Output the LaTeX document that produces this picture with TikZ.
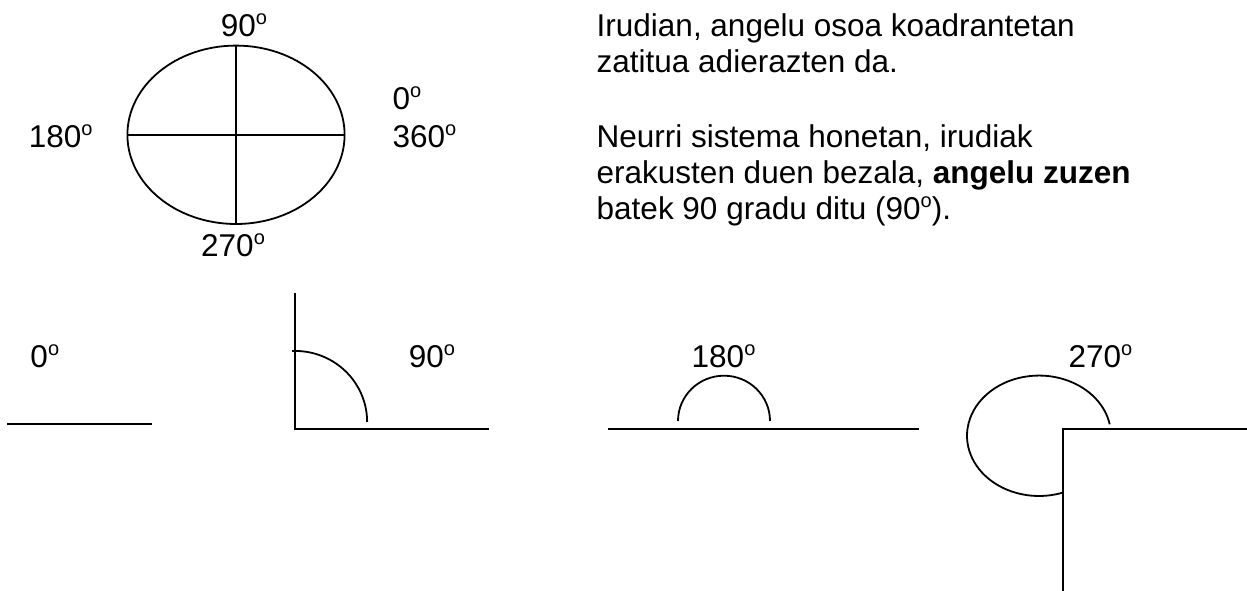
\documentclass[tikz,border=0pt]{standalone}
\usepackage{fontspec}
\setmainfont{Liberation Sans}
\usetikzlibrary{positioning}

\newcommand{\gradu}{\raisebox{0.4em}{\fontsize{20}{20}\selectfont o}}

\tikzset{
  deg/.style={inner sep=0pt, font=\fontsize{31.5}{36}\selectfont},
  stroke/.style={line width=1.8pt}
}

\begin{document}
\begin{tikzpicture}[x=1pt,y=1pt]
  \useasboundingbox (0,0) rectangle (1247,591);
  % full angle split in quadrants
  \draw[stroke] (236,456.2) ellipse (108.6 and 89.2);
  \draw[stroke] (127.4,456.2) -- (344.6,456.2);
  \draw[stroke] (236,545.3) -- (236,367);
  \node[deg,anchor=base] (q90) at (244,554.3) {90\gradu};
  \node[deg,anchor=base west] (q180) at (28.6,443) {180\gradu};
  \node[deg,anchor=base west] (q0) at (392.4,481) {0\gradu};
  \node[deg,anchor=base west] (q360) at (392.4,443) {360\gradu};
  \node[deg,anchor=base west] (q270) at (201,334) {270\gradu};
  % explanation
  \node[deg,anchor=base west] (t1) at (596.5,554) {Irudian, angelu osoa koadrantetan};
  \node[deg,anchor=base west] (t2) at (596.5,518) {zatitua adierazten da.};
  \node[deg,anchor=base west] (t3) at (596.5,443) {Neurri sistema honetan, irudiak};
  \node[deg,anchor=base west] (t4) at (596.5,407) {erakusten duen bezala, \textbf{angelu zuzen}};
  \node[deg,anchor=base west] (t5) at (596.5,371) {batek 90 gradu ditu (90\gradu).};
  % the four angles
  \node[deg,anchor=base west] (a0) at (30.3,223) {0\gradu};
  \draw[stroke] (7,167.3) -- (152,167.3);
  \node[deg,anchor=base west] (a90) at (408.7,223) {90\gradu};
  \draw[stroke] (295,298) -- (295,161.7) -- (489,161.7);
  \draw[stroke] (292,240) arc[start angle=92.5, end angle=0, x radius=72, y radius=71];
  \node[deg,anchor=base west] (a180) at (691.5,223) {180\gradu};
  \draw[stroke] (608,161.7) -- (919,161.7);
  \draw[stroke] (678,170) arc[start angle=180, end angle=0, x radius=46, y radius=45.3];
  \node[deg,anchor=base west] (a270) at (1068.4,223) {270\gradu};
  \draw[stroke] (1247,161.7) -- (1063,161.7) -- (1063,0);
  \draw[stroke] (1109.7,166.7) arc[start angle=11, end angle=289.5, x radius=72, y radius=60.2];
\end{tikzpicture}
\end{document}
